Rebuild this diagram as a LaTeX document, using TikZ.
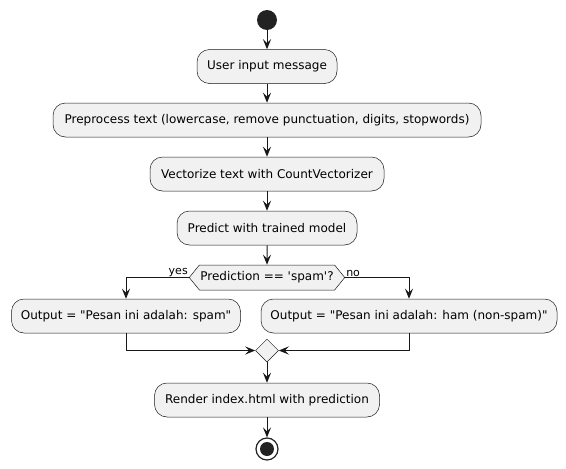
\documentclass[tikz,border=0pt]{standalone}
\usepackage{fontspec}
\setmainfont{DejaVu Sans}[Ligatures=TeXOff]
\usetikzlibrary{arrows.meta,shapes.geometric,shapes.symbols}
\definecolor{boxfill}{HTML}{F1F1F1}
\definecolor{boxline}{HTML}{181818}
\definecolor{dotfill}{HTML}{222222}
\tikzset{
    action/.style = {draw=boxline, line width=0.5pt, fill=boxfill, rounded corners=12.5pt,
        minimum height=34pt, inner sep=0pt, font=\fontsize{12}{14}\selectfont},
    decision/.style = {draw=boxline, line width=0.5pt, fill=boxfill, signal, signal to=west and east,
        signal pointer angle=102, minimum height=25pt, inner xsep=1pt, inner ysep=0pt,
        font=\fontsize{12}{14}\selectfont},
    merge/.style = {draw=boxline, line width=0.5pt, fill=boxfill, diamond, minimum size=23pt, inner sep=0pt},
    branch/.style = {font=\fontsize{11}{13}\selectfont, inner sep=1pt},
    flow/.style = {draw=boxline, line width=1pt, -{Stealth[length=10pt, width=8pt, inset=4pt]}}
}
\begin{document}
\begin{tikzpicture}[x=1pt, y=-1pt]
    \useasboundingbox (0,0) rectangle (566,469);

    % Start and end points
    \node[circle, fill=dotfill, minimum size=20pt, inner sep=0pt] (start) at (267,20) {};
    \node[circle, draw=dotfill, line width=1.2pt, fill=white, minimum size=22pt, inner sep=0pt] (stop) at (267,449) {};
    \fill[dotfill] (stop.center) circle (7pt);

    % Draw the actions
    \node[action, minimum width=140pt] (input) at (267,66.5) {User input message};
    \node[action, minimum width=428pt] (clean) at (267,120) {Preprocess text (lowercase, remove punctuation, digits, stopwords)};
    \node[action, minimum width=234pt] (vector) at (267,174) {Vectorize text with CountVectorizer};
    \node[action, minimum width=180pt] (predict) at (267,228) {Predict with trained model};
    \node[decision, minimum width=149pt] (check) at (267,277.5) {Prediction == 'spam'?};
    \node[action, minimum width=229pt] (spam) at (126,316) {Output = "Pesan ini adalah: spam"};
    \node[action, minimum width=296pt] (ham) at (409,316) {Output = "Pesan ini adalah: ham (non-spam)"};
    \node[merge] (join) at (267,350.5) {};
    \node[action, minimum width=225pt] (render) at (267,400) {Render index.html with prediction};

    % Branch labels
    \node[branch, anchor=south east] at (check.west) {yes};
    \node[branch, anchor=south west] at (check.east) {no};

    % Draw the flow
    \draw[flow] (start) -- (input);
    \draw[flow] (input) -- (clean);
    \draw[flow] (clean) -- (vector);
    \draw[flow] (vector) -- (predict);
    \draw[flow] (predict) -- (check);
    \draw[flow] (check.west) -| (spam.north);
    \draw[flow] (check.east) -| (ham.north);
    \draw[flow] (spam.south) |- (join.west);
    \draw[flow] (ham.south) |- (join.east);
    \draw[flow] (join) -- (render);
    \draw[flow] (render) -- (stop);

\end{tikzpicture}
\end{document}
